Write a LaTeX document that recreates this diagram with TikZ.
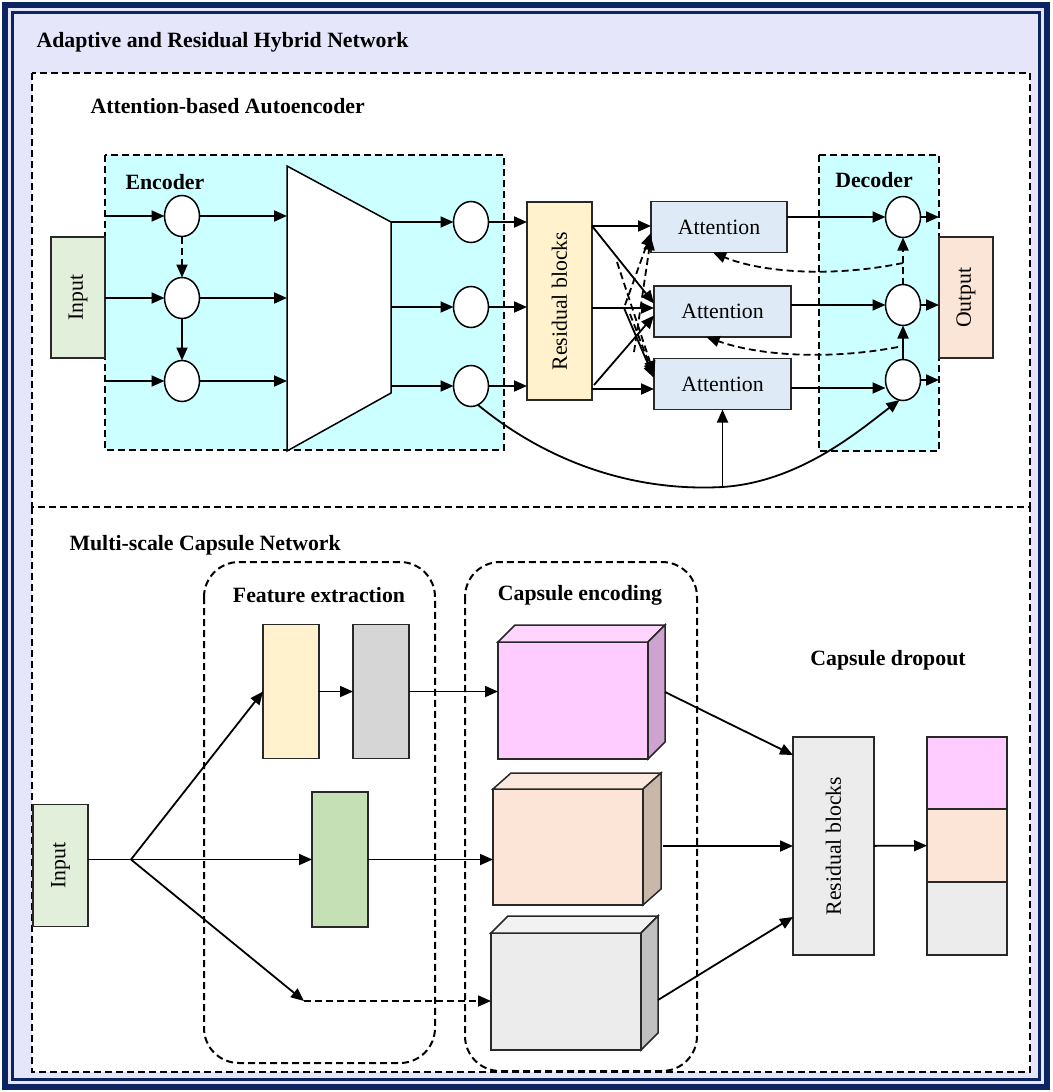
\documentclass[tikz,border=0pt]{standalone}
\usepackage{fontspec}
\setmainfont{Liberation Serif}
\usetikzlibrary{arrows.meta,shapes.geometric,calc}
\definecolor{navy}{RGB}{12,36,97}
\definecolor{lav}{RGB}{230,230,250}
\definecolor{cyanbg}{RGB}{204,255,255}
\definecolor{inputg}{RGB}{226,239,218}
\definecolor{outp}{RGB}{251,229,214}
\definecolor{resy}{RGB}{255,242,204}
\definecolor{attb}{RGB}{222,235,247}
\definecolor{grayb}{RGB}{214,214,214}
\definecolor{greenb}{RGB}{197,224,180}
\definecolor{pinkf}{RGB}{255,204,255}
\definecolor{pinkt}{RGB}{255,212,255}
\definecolor{pinks}{RGB}{207,163,207}
\definecolor{peachf}{RGB}{252,228,214}
\definecolor{peacht}{RGB}{252,233,222}
\definecolor{peachs}{RGB}{201,183,170}
\definecolor{grayf}{RGB}{236,236,236}
\definecolor{grayt}{RGB}{242,242,242}
\definecolor{grays}{RGB}{192,192,192}
\definecolor{edge}{RGB}{40,40,40}
\begin{document}
\begin{tikzpicture}[x=1pt,y=-1pt,
  bold/.style={font=\bfseries\fontsize{21.8}{24}\selectfont},
  txt/.style={font=\fontsize{21.8}{24}\selectfont},
  box/.style={draw=edge,line width=1.5pt,inner sep=0pt,outer sep=0pt},
  ell/.style={ellipse,draw=black,fill=white,line width=1.5pt,minimum width=35pt,minimum height=41pt,inner sep=0pt,outer sep=0pt},
  arr/.style={-{Triangle[length=13pt,width=11pt]},line width=1.8pt},
  dsh/.style={dash pattern=on 7pt off 4pt},
  frame/.style={draw=black,line width=2pt,dsh}
]
\useasboundingbox (0,0) rectangle (1052,1092);
\fill[white] (0,0) rectangle (1052,1092);
\draw[navy,line width=6pt,fill=lav] (5,5) rectangle (1047,1087);
\draw[navy,line width=2.2pt] (12.5,12.5) rectangle (1039.5,1079.5);
\node[bold,anchor=west] (title) at (33,42) {Adaptive and Residual Hybrid Network};

% ---------- top section ----------
\draw[frame,fill=white] (32,73) rectangle (1030,507);
\node[bold,anchor=west] (aba) at (87,106) {Attention-based Autoencoder};
\draw[frame,fill=cyanbg] (105,155) rectangle (504,450);
\draw[frame,fill=cyanbg] (819,155) rectangle (939,451);
\node[bold,anchor=west] (enc) at (122,182) {Encoder};
\node[bold] (dec) at (874,180) {Decoder};

\node[box,fill=inputg,minimum width=54pt,minimum height=121pt,label={[txt,rotate=90]center:Input}] (in1) at (78,297.5) {};
\node[ell] (e1) at (182,216) {};
\node[ell] (e2) at (182,298) {};
\node[ell] (e3) at (182,381) {};
\coordinate (ein1) at (105,216);
\coordinate (ein3) at (105,381);
\draw[arr] (ein1) -- (e1);
\draw[arr] (in1.east |- e2) -- (e2);
\draw[arr] (ein3) -- (e3);
\draw[arr,dsh] (e1) -- (e2);
\draw[arr] (e2) -- (e3);

\coordinate (tl) at (287,166);
\coordinate (tr) at (391,222);
\coordinate (tbr) at (391,393);
\coordinate (tbl) at (287,451);
\draw[fill=white,line width=1.5pt] (tl) -- (tr) -- (tbr) -- (tbl) -- cycle;
\coordinate (t1) at (287,216);
\coordinate (t2) at (287,298);
\coordinate (t3) at (287,381);
\draw[arr] (e1) -- (t1);
\draw[arr] (e2) -- (t2);
\draw[arr] (e3) -- (t3);

\node[ell] (r1) at (471,222) {};
\node[ell] (r2) at (471,307) {};
\node[ell] (r3) at (471,386) {};
\coordinate (o1) at (391,222);
\coordinate (o2) at (391,307);
\coordinate (o3) at (391,386);
\draw[arr] (o1) -- (r1);
\draw[arr] (o2) -- (r2);
\draw[arr] (o3) -- (r3);

\node[box,fill=resy,minimum width=65pt,minimum height=198pt,label={[txt,rotate=90]center:Residual blocks}] (R) at (559.5,301) {};
\draw[arr] (r1) -- (r1 -| R.west);
\draw[arr] (r2) -- (r2 -| R.west);
\draw[arr] (r3) -- (r3 -| R.west);

\node[box,fill=attb,minimum width=136pt,minimum height=51pt,txt] (A1) at (719,227) {Attention};
\node[box,fill=attb,minimum width=137pt,minimum height=51pt,txt] (A2) at (722.5,311.5) {Attention};
\node[box,fill=attb,minimum width=137pt,minimum height=51pt,txt] (A3) at (722.5,384) {Attention};

\coordinate (Ra) at (592,226);
\coordinate (Rb) at (592,308);
\coordinate (Rc) at (594,385);
\coordinate (Rd) at (592,389);
\draw[arr] (Ra) -- (A1.west |- Ra);
\draw[arr] (Ra) -- ([yshift=8pt]A2.west);
\draw[arr] (Rb) -- (A2.west |- Rb);
\draw[arr] (Rb) -- ++(32,0) -- ([yshift=6pt]A3.west);
\draw[arr] (Rc) -- ([yshift=-4pt]A2.west);
\draw[arr] (Rd) -- (A3.west |- Rd);
\coordinate (dA) at (617,262);
\coordinate (dB) at (630,314);
\coordinate (dC) at (625,305);
\coordinate (dD) at (634,352);
\draw[arr,dsh] (dA) -- ([yshift=10pt]A3.west);
\draw[arr,dsh] (dB) -- ([yshift=8pt]A3.west);
\draw[arr,dsh] (dC) -- ([yshift=-6pt]A1.west);
\draw[arr,dsh] (dD) -- ([yshift=-10pt]A1.west);

\node[ell] (D1) at (903,217) {};
\node[ell] (D2) at (903,305) {};
\node[ell] (D3) at (903,380) {};
\node[box,fill=outp,minimum width=54pt,minimum height=121pt,label={[txt,rotate=90]center:Output}] (out) at (966,297.5) {};
\draw[arr] (A1.east |- D1) -- (D1);
\draw[arr] (A2.east |- D2) -- (D2);
\coordinate (a3o) at ([yshift=-4pt]A3.east);
\draw[arr] (a3o) -- (a3o -| D3.west);
\draw[arr] (D1) -- (D1 -| out.west);
\draw[arr] (D2) -- (D2 -| out.west);
\draw[arr] (D3) -- (D3 -| out.west);
\draw[arr] (D3) -- (D2);
\draw[arr,dsh] (D2) -- (D1);
\coordinate (dk1) at (903,263);
\coordinate (dk2) at (898,347);
\draw[arr,dsh] (dk1) .. controls (830,278) and (760,272) .. ([xshift=-6pt]A1.south);
\draw[arr,dsh] (dk2) .. controls (830,360) and (760,356) .. ([xshift=-16pt]A2.south);

\coordinate (cb) at (722.5,487);
\draw[arr] (r3.-70) .. controls (545,460) and (630,492) .. (cb) .. controls (800,482) and (860,430) .. (D3.-100);
\draw[arr] (cb) -- (A3.south);

% ---------- bottom section ----------
\draw[frame,fill=white] (32,507) rectangle (1030,1072);
\node[bold,anchor=west] (msc) at (66,545) {Multi-scale Capsule Network};
\draw[frame,rounded corners=35pt] (204,562) rectangle (435,1063);
\draw[frame,rounded corners=35pt] (465,562) rectangle (697,1071);
\node[bold] (fe) at (319,595) {Feature extraction};
\node[bold] (ce) at (580,595) {Capsule encoding};
\node[bold] (cd) at (888,660) {Capsule dropout};

\node[box,fill=inputg,minimum width=55pt,minimum height=122pt,label={[txt,rotate=90]center:Input}] (in2) at (60.5,865.5) {};
\coordinate (br) at (131,859.5);
\draw[line width=1.8pt] (in2.east |- br) -- (br);
\node[box,fill=resy,minimum width=56pt,minimum height=134pt] (Y) at (291,691.5) {};
\node[box,fill=grayb,minimum width=56pt,minimum height=134pt] (G) at (381,691.5) {};
\node[box,fill=greenb,minimum width=56pt,minimum height=135pt] (Gr) at (340,859.5) {};
\coordinate (dd) at (304,1001);
\draw[arr] (br) -- (Y.west);
\draw[arr] (br) -- (Gr.west);
\draw[arr] (br) -- (dd);
\draw[arr] (Y) -- (G);

% cubes
\node[box,fill=pinkf,minimum width=150pt,minimum height=117pt] (P) at (573,700.5) {};
\draw[box,fill=pinkt] (P.north west) -- ++(17,-17) -- ++(150,0) -- (P.north east) -- cycle;
\draw[box,fill=pinks] (P.north east) -- ++(17,-17) -- ++(0,117) -- (P.south east) -- cycle;
\node[box,fill=peachf,minimum width=150pt,minimum height=116pt] (Q) at (568,847) {};
\draw[box,fill=peacht] (Q.north west) -- ++(18,-16) -- ++(150,0) -- (Q.north east) -- cycle;
\draw[box,fill=peachs] (Q.north east) -- ++(18,-16) -- ++(0,116) -- (Q.south east) -- cycle;
\node[box,fill=grayf,minimum width=150pt,minimum height=117pt] (C) at (566,991.5) {};
\draw[box,fill=grayt] (C.north west) -- ++(17,-17) -- ++(150,0) -- (C.north east) -- cycle;
\draw[box,fill=grays] (C.north east) -- ++(17,-17) -- ++(0,117) -- (C.south east) -- cycle;

\draw[arr] (G) -- (G -| P.west);
\draw[arr] (Gr) -- (Gr -| Q.west);
\draw[arr,dsh] (dd) -- (dd -| C.west);

\node[box,fill=grayf,minimum width=81pt,minimum height=218pt,label={[txt,rotate=90]center:Residual blocks}] (RB) at (833.5,846) {};
\node[box,fill=pinkf,minimum width=80pt,minimum height=72pt] (S1) at (967,773) {};
\node[box,fill=peachf,minimum width=80pt,minimum height=73pt] (S2) at (967,845.5) {};
\node[box,fill=grayf,minimum width=80pt,minimum height=73pt] (S3) at (967,918.5) {};

\coordinate (Pout) at (665,692);
\coordinate (Qout) at (663,846);
\coordinate (Cout) at (658,1000);
\draw[arr] (Pout) -- ([yshift=-18pt]RB.north west);
\draw[arr] (Qout) -- (Qout -| RB.west);
\draw[arr] (Cout) -- ([yshift=38pt]RB.south west);
\draw[arr] (RB) -- (S2);
\end{tikzpicture}
\end{document}
